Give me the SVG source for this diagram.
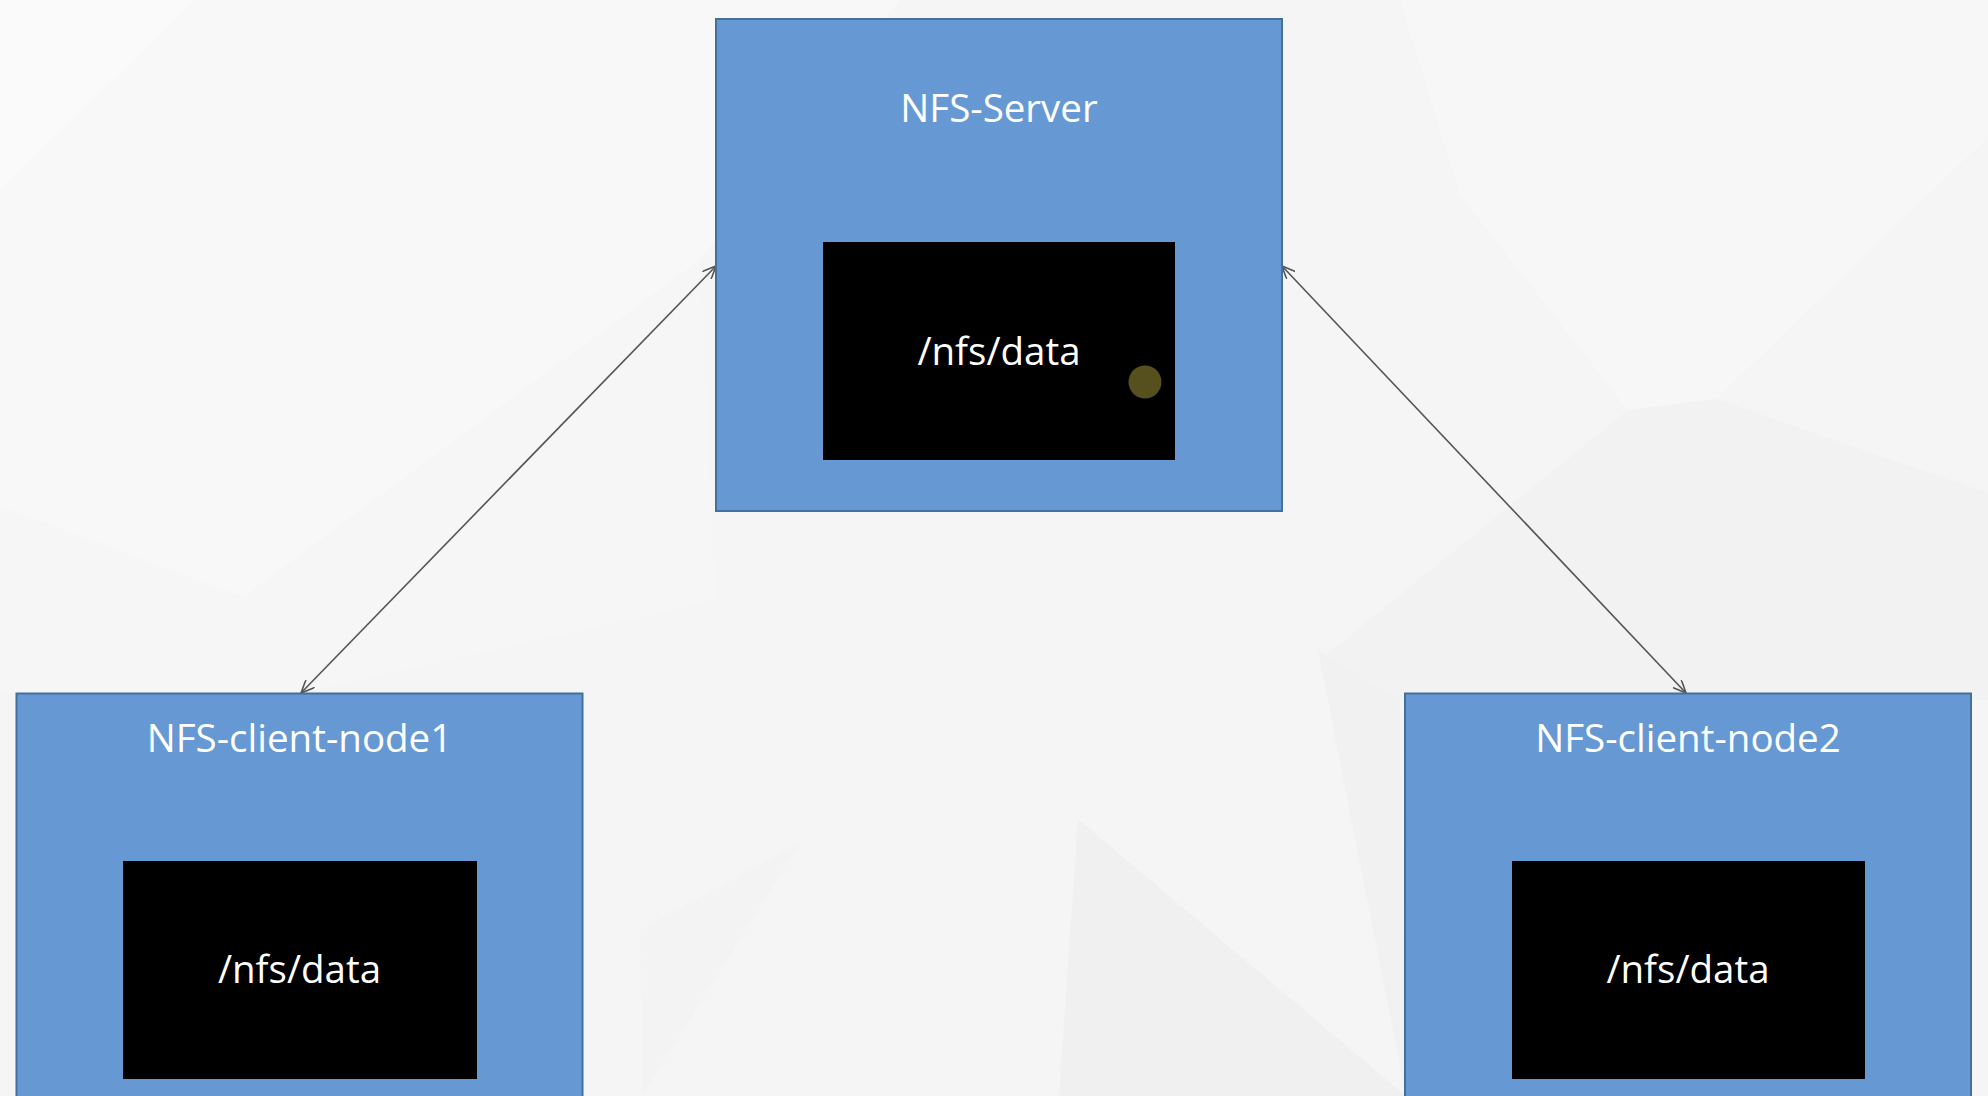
<svg xmlns="http://www.w3.org/2000/svg" width="1988" height="1096" viewBox="0 0 1988 1096">
<style>
.box{fill:#6699d3;stroke:#41719c;stroke-width:2}
.vol{fill:#000000}
.t{font-family:"Open Sans","Noto Sans",sans-serif;font-size:38.5px;fill:#ffffff;text-anchor:middle}
.link{stroke:#555555;stroke-width:1.6;fill:none;marker-start:url(#arr);marker-end:url(#arr)}
</style>
<defs>
<marker id="arr" viewBox="0 0 14 12" markerWidth="14" markerHeight="12" refX="13.5" refY="6" orient="auto-start-reverse" markerUnits="userSpaceOnUse">
<path d="M0,0 L13.5,6 L0,12" fill="none" stroke="#555555" stroke-width="1.6"/>
</marker>
</defs>
<g id="background">
<rect x="0" y="0" width="1988" height="1096" fill="#f5f5f5"/>
<polygon points="0,0 900,0 700,260 243,597 0,506" fill="#f8f8f8"/>
<polygon points="0,0 196,0 0,189" fill="#fafafa"/>
<polygon points="243,597 700,260 716,600 300,693 0,693 0,506" fill="#f6f6f6"/>
<polygon points="1460,195 1628,410 1716,399 1988,137 1988,0 1400,0" fill="#f7f7f7"/>
<polygon points="1628,410 1716,399 1988,493 1988,700 1400,700 1320,660" fill="#f2f2f2"/>
<polygon points="1078,819 1059,1096 1406,1096" fill="#f0f0f0"/>
<polygon points="1318,650 1406,1096 1400,700" fill="#f1f1f1"/>
<polygon points="642,1096 800,843 640,930" fill="#f3f3f3"/>
</g>
<g id="connectors">
<line class="link" x1="716" y1="266" x2="301" y2="693"/>
<line class="link" x1="1282" y1="266" x2="1686" y2="693"/>
</g>
<g id="nfs-server">
<rect class="box" x="716" y="19" width="566" height="492"/>
<text class="t" x="999" y="122">NFS-Server</text>
<rect class="vol" x="823" y="242" width="352" height="218"/>
<text class="t" x="999" y="365">/nfs/data</text>
<circle cx="1145" cy="382" r="16.5" fill="#55501e"/>
</g>
<g id="nfs-client-node1">
<rect class="box" x="16.5" y="693.5" width="566" height="420"/>
<text class="t" x="299.5" y="752">NFS-client-node1</text>
<rect class="vol" x="123" y="861" width="354" height="218"/>
<text class="t" x="299.5" y="983">/nfs/data</text>
</g>
<g id="nfs-client-node2">
<rect class="box" x="1405" y="693.5" width="566" height="420"/>
<text class="t" x="1688" y="752">NFS-client-node2</text>
<rect class="vol" x="1512" y="861" width="353" height="218"/>
<text class="t" x="1688" y="983">/nfs/data</text>
</g>
</svg>
